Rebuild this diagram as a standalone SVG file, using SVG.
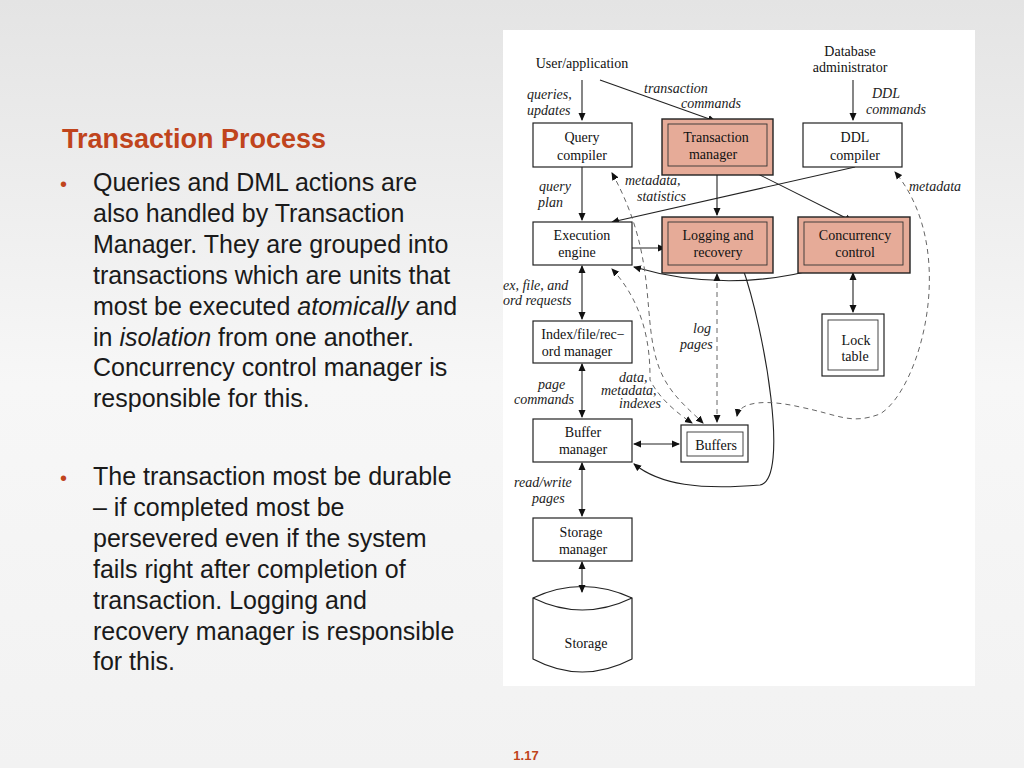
<svg xmlns="http://www.w3.org/2000/svg" width="1024" height="768" viewBox="0 0 1024 768">
<defs>
<linearGradient id="bg" x1="0" y1="0" x2="0" y2="1"><stop offset="0" stop-color="#e4e4e4"/><stop offset="0.5" stop-color="#f7f7f7"/><stop offset="1" stop-color="#f2f2f2"/></linearGradient>
<marker id="a" markerWidth="8" markerHeight="8" refX="7" refY="4" orient="auto-start-reverse" markerUnits="userSpaceOnUse"><path d="M0,0.5 L8,4 L0,7.5 Z" fill="#111"/></marker>
</defs>
<style>
.b{fill:#fff;stroke:#222;stroke-width:1.2}
.r{fill:#e6ab98;stroke:#222;stroke-width:1.4}
.ri{fill:none;stroke:#333;stroke-width:0.9}
.t{font-family:"Liberation Serif",serif;font-size:14px;fill:#111;text-anchor:middle}
.i{font-family:"Liberation Serif",serif;font-size:14px;font-style:italic;fill:#222}
.l{fill:none;stroke:#222;stroke-width:1.1}
.d{fill:none;stroke:#666;stroke-width:1;stroke-dasharray:5,4}
.s{font-family:"Liberation Sans",Arial,sans-serif;font-size:25px;fill:#1a1a1a}
</style>
<rect width="1024" height="768" fill="url(#bg)"/>
<rect x="503" y="30" width="472" height="656" fill="#fff"/>
<text x="62" y="148" font-family="Liberation Sans,Arial,sans-serif" font-size="27" font-weight="bold" fill="#c0441c">Transaction Process</text>
<g class="s">
<text x="60" y="191" fill="#c0441c" font-size="20">•</text>
<text x="93" y="191">Queries and DML actions are</text>
<text x="93" y="222">also handled by Transaction</text>
<text x="93" y="253">Manager.  They are grouped into</text>
<text x="93" y="284">transactions which are units that</text>
<text x="93" y="315">most be executed <tspan font-style="italic">atomically</tspan> and</text>
<text x="93" y="346">in <tspan font-style="italic">isolation</tspan> from one another.</text>
<text x="93" y="376">Concurrency control manager is</text>
<text x="93" y="407">responsible for this.</text>
<text x="60" y="485" fill="#c0441c" font-size="20">•</text>
<text x="93" y="485">The transaction most be durable</text>
<text x="93" y="516">– if completed most be</text>
<text x="93" y="547">persevered even if the system</text>
<text x="93" y="578">fails right after completion of</text>
<text x="93" y="609">transaction. Logging and</text>
<text x="93" y="640">recovery manager is responsible</text>
<text x="93" y="670">for this.</text>
</g>
<text x="526" y="760" font-family="Liberation Sans,Arial,sans-serif" font-size="13" font-weight="bold" fill="#c0441c" text-anchor="middle">1.17</text>

<g id="storage"><path class="b" d="M533,598 Q582,575 632,598 V659 Q582,685 533,659 Z"/><path class="l" d="M533,598 Q582,622 632,598"/><text class="t" x="586" y="648">Storage</text></g>

<g id="connectors">
<path class="l" d="M582,80 V120" marker-end="url(#a)"/>
<path class="l" d="M600,80 L715,121" marker-end="url(#a)"/>
<path class="l" d="M853,80 V120" marker-end="url(#a)"/>
<path class="l" d="M582,167 V220" marker-end="url(#a)"/>
<path class="l" d="M717,166 V215" marker-end="url(#a)"/>
<path class="l" d="M742,166 L852,221" marker-end="url(#a)"/>
<path class="l" d="M855,167 L612,222" marker-end="url(#a)"/>
<path class="l" d="M632,248 H665" marker-end="url(#a)"/>
<path class="l" d="M634,267 Q730,295 828,266" marker-start="url(#a)" marker-end="url(#a)"/>
<path class="l" d="M853,273 V312" marker-start="url(#a)" marker-end="url(#a)"/>
<path class="l" d="M582,266 V319" marker-start="url(#a)" marker-end="url(#a)"/>
<path class="l" d="M582,364 V417" marker-start="url(#a)" marker-end="url(#a)"/>
<path class="l" d="M634,444 H679" marker-start="url(#a)" marker-end="url(#a)"/>
<path class="l" d="M582,463 V516" marker-start="url(#a)" marker-end="url(#a)"/>
<path class="l" d="M582,562 V592" marker-start="url(#a)" marker-end="url(#a)"/>
<path class="l" d="M742,266 C765,330 790,480 760,485 C700,490 660,485 634,464" marker-end="url(#a)"/>
<path class="d" d="M717,274 V422" marker-start="url(#a)" marker-end="url(#a)" stroke="#222"/>
<path class="d" d="M612,173 C660,260 640,320 660,370 C670,395 690,410 703,423" marker-start="url(#a)" marker-end="url(#a)"/>
<path class="d" d="M612,269 C650,310 650,360 650,380 C660,400 680,415 692,423" marker-start="url(#a)" marker-end="url(#a)"/>
<path class="d" d="M737,416 C740,400 770,400 800,407 C840,415 850,425 880,414 C920,390 960,250 895,172" marker-start="url(#a)" marker-end="url(#a)"/>
</g>

<g id="labels">
<text class="t" x="582" y="68">User/application</text>
<text class="t" x="850" y="56">Database</text>
<text class="t" x="850" y="72">administrator</text>
<text class="i" x="527" y="99">queries,</text>
<text class="i" x="527" y="115">updates</text>
<text class="i" x="644" y="93">transaction</text>
<text class="i" x="681" y="108">commands</text>
<text class="i" x="872" y="98">DDL</text>
<text class="i" x="866" y="114">commands</text>
<text class="i" x="539" y="191">query</text>
<text class="i" x="538" y="207">plan</text>
<text class="i" x="625" y="185">metadata,</text>
<text class="i" x="637" y="201">statistics</text>
<text class="i" x="909" y="191">metadata</text>
<text class="i" x="503" y="290">ex, file, and</text>
<text class="i" x="503" y="305">ord requests</text>
<text class="i" x="693" y="333">log</text>
<text class="i" x="680" y="349">pages</text>
<text class="i" x="538" y="389">page</text>
<text class="i" x="514" y="404">commands</text>
<text class="i" x="619" y="382">data,</text>
<text class="i" x="601" y="395">metadata,</text>
<text class="i" x="619" y="408">indexes</text>
<text class="i" x="514" y="487">read/write</text>
<text class="i" x="532" y="503">pages</text>
</g>

<g id="query-compiler"><rect class="b" x="533" y="123" width="99" height="44"/><text class="t" x="582" y="142">Query</text><text class="t" x="582" y="160">compiler</text></g>
<g id="transaction-manager"><rect class="r" x="662" y="119" width="111" height="56"/><rect class="ri" x="668" y="124" width="99" height="42"/><text class="t" x="716" y="142" fill="#4a2418">Transaction</text><text class="t" x="713" y="159" fill="#4a2418">manager</text></g>
<g id="ddl-compiler"><rect class="b" x="803" y="123" width="99" height="44"/><text class="t" x="855" y="142">DDL</text><text class="t" x="855" y="160">compiler</text></g>
<g id="execution-engine"><rect class="b" x="533" y="222" width="99" height="43"/><text class="t" x="582" y="240">Execution</text><text class="t" x="577" y="257">engine</text></g>
<g id="logging-recovery"><rect class="r" x="662" y="217" width="111" height="56"/><rect class="ri" x="668" y="222" width="99" height="43"/><text class="t" x="718" y="240" fill="#4a2418">Logging and</text><text class="t" x="718" y="257" fill="#4a2418">recovery</text></g>
<g id="concurrency-control"><rect class="r" x="798" y="217" width="112" height="56"/><rect class="ri" x="804" y="222" width="99" height="43"/><text class="t" x="855" y="240" fill="#4a2418">Concurrency</text><text class="t" x="855" y="257" fill="#4a2418">control</text></g>
<g id="lock-table"><rect class="b" x="822" y="314" width="62" height="62"/><rect class="ri" x="828" y="320" width="50" height="50"/><text class="t" x="856" y="345">Lock</text><text class="t" x="855" y="361">table</text></g>
<g id="index-manager"><rect class="b" x="533" y="321" width="99" height="42"/><text class="t" x="583" y="339">Index/file/rec−</text><text class="t" x="577" y="356">ord manager</text></g>
<g id="buffer-manager"><rect class="b" x="533" y="419" width="99" height="43"/><text class="t" x="583" y="437">Buffer</text><text class="t" x="583" y="454">manager</text></g>
<g id="buffers"><rect class="b" x="681" y="425" width="67" height="37"/><rect class="ri" x="687" y="432" width="56" height="24"/><text class="t" x="716" y="450">Buffers</text></g>
<g id="storage-manager"><rect class="b" x="533" y="518" width="99" height="43"/><text class="t" x="581" y="537">Storage</text><text class="t" x="583" y="554">manager</text></g>
</svg>
